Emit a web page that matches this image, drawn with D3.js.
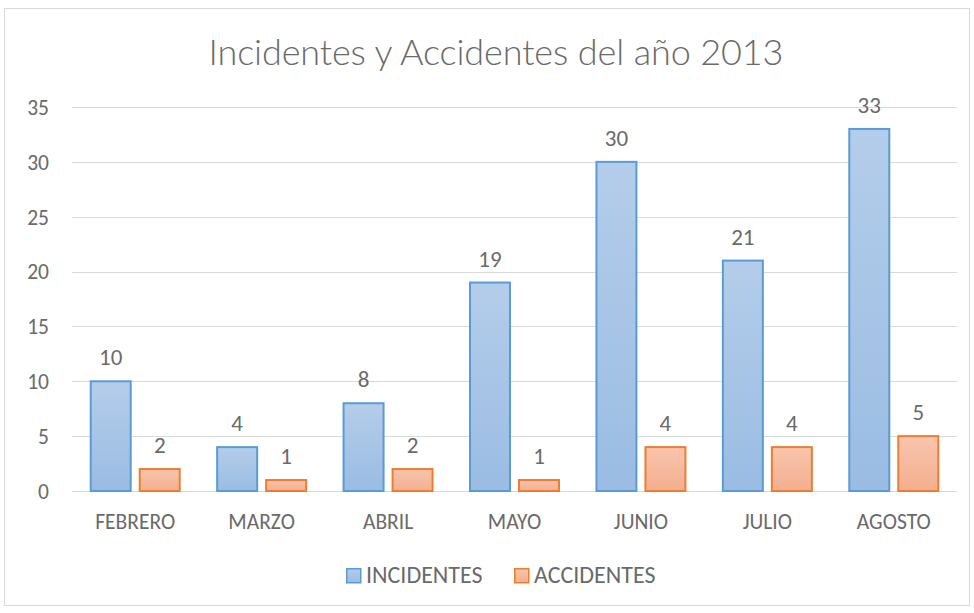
<!DOCTYPE html>
<html>
<head>
<meta charset="utf-8">
<script src="https://cdn.jsdelivr.net/npm/d3@7"></script>
<style>
  body { margin: 0; background: #fff; }
  svg text { font-family: Carlito, 'Open Sans', sans-serif; fill: #6a6a6a; }
</style>
</head>
<body>
<div id="chart"></div>
<script>
// chart data
const months = ['FEBRERO', 'MARZO', 'ABRIL', 'MAYO', 'JUNIO', 'JULIO', 'AGOSTO'];
const incidentes = [10, 4, 8, 19, 30, 21, 33];
const accidentes = [2, 1, 2, 1, 4, 4, 5];
const seriesNames = ['INCIDENTES', 'ACCIDENTES'];
const yTicks = [0, 5, 10, 15, 20, 25, 30, 35];

const W = 974, H = 613;
const margin = { left: 72, right: 17, top: 107, bottom: 122 };
const textColor = '#6a6a6a';

const svg = d3.select('#chart')
  .append('svg')
  .attr('width', W)
  .attr('height', H);

// gradients for the bars
const defs = svg.append('defs');
const grads = [
  { id: 'gBlue',   top: '#b4cdea', bottom: '#9abce3', stroke: '#5b9bd5' },
  { id: 'gOrange', top: '#f8c5ad', bottom: '#f4ae8f', stroke: '#ed7d31' }
];
grads.forEach(g => {
  const lg = defs.append('linearGradient')
    .attr('id', g.id).attr('x1', 0).attr('y1', 0).attr('x2', 0).attr('y2', 1);
  lg.append('stop').attr('offset', '0%').attr('stop-color', g.top);
  lg.append('stop').attr('offset', '100%').attr('stop-color', g.bottom);
});

// outer frame
svg.append('rect')
  .attr('x', 4.5).attr('y', 8.5)
  .attr('width', 965).attr('height', 597)
  .attr('fill', '#fff')
  .attr('stroke', '#d9d9d9');

const x = d3.scaleBand()
  .domain(months)
  .range([margin.left, W - margin.right]);

const xInner = d3.scaleBand()
  .domain(seriesNames)
  .range([0, x.bandwidth()])
  .paddingInner(0.184)
  .paddingOuter(0.382);

const y = d3.scaleLinear()
  .domain([0, 35])
  .range([H - margin.bottom, margin.top]);

// gridlines
svg.append('g')
  .selectAll('line')
  .data(yTicks)
  .join('line')
  .attr('x1', margin.left).attr('x2', W - margin.right)
  .attr('y1', d => Math.round(y(d)) + 0.5).attr('y2', d => Math.round(y(d)) + 0.5)
  .attr('stroke', '#d9d9d9');

// y axis labels
const yAxis = svg.append('g')
  .attr('transform', `translate(${margin.left - 23},0)`)
  .call(d3.axisLeft(y).tickValues(yTicks).tickSize(0).tickPadding(0));
yAxis.select('.domain').remove();
yAxis.attr('font-family', null);
yAxis.selectAll('text')
  .attr('font-size', 21.5)
  .attr('dy', '0.34em')
  .style('fill', textColor);

// x axis labels
const xAxis = svg.append('g')
  .attr('transform', `translate(0,${y(0)})`)
  .call(d3.axisBottom(x).tickSize(0));
xAxis.select('.domain').remove();
xAxis.attr('font-family', null);
xAxis.selectAll('text')
  .attr('font-size', 21.5)
  .attr('y', 38)
  .attr('dy', 0)
  .style('fill', textColor);

const series = [
  { name: seriesNames[0], values: incidentes, fill: 'url(#gBlue)',   stroke: grads[0].stroke },
  { name: seriesNames[1], values: accidentes, fill: 'url(#gOrange)', stroke: grads[1].stroke }
];

series.forEach(s => {
  const g = svg.append('g');
  g.selectAll('rect')
    .data(months)
    .join('rect')
    .attr('x', (m) => x(m) + xInner(s.name))
    .attr('y', (m, i) => y(s.values[i]))
    .attr('width', xInner.bandwidth())
    .attr('height', (m, i) => y(0) - y(s.values[i]))
    .attr('fill', s.fill)
    .attr('stroke', s.stroke)
    .attr('stroke-width', 2);

  g.selectAll('text')
    .data(months)
    .join('text')
    .attr('x', m => x(m) + xInner(s.name) + xInner.bandwidth() / 2)
    .attr('y', (m, i) => y(s.values[i]) - 16)
    .attr('text-anchor', 'middle')
    .attr('font-size', 23)
    .text((m, i) => s.values[i]);
});

// title
svg.append('text')
  .attr('x', 496).attr('y', 65)
  .attr('text-anchor', 'middle')
  .attr('font-size', 36)
  .style('font-family', 'Lato, Carlito, sans-serif')
  .style('font-weight', 300)
  .attr('textLength', 575)
  .attr('lengthAdjust', 'spacing')
  .text('Incidentes y Accidentes del año 2013');

// legend
const legend = svg.append('g');
const legendX = [346, 514];
series.forEach((s, i) => {
  const lg = legend.append('g').attr('transform', `translate(${legendX[i]},568)`);
  lg.append('rect')
    .attr('x', 0.75).attr('y', 0.75)
    .attr('width', 14).attr('height', 14)
    .attr('fill', s.fill)
    .attr('stroke', s.stroke)
    .attr('stroke-width', 1.5);
  lg.append('text')
    .attr('x', 20).attr('y', 15)
    .attr('font-size', 24)
    .text(s.name);
});
</script>
</body>
</html>
